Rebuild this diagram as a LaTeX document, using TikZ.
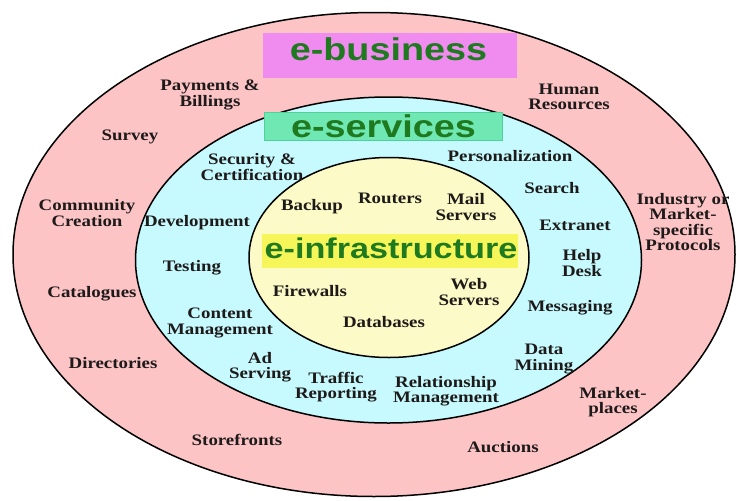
\documentclass[tikz,border=0pt]{standalone}
\usepackage{fontspec}
\newfontfamily\titlefont{Liberation Sans}[FakeStretch=1.2]
\newfontfamily\labfont{Liberation Serif}[FakeStretch=1.18]
\definecolor{pinkfill}{HTML}{FDC4C6}
\definecolor{cyanfill}{HTML}{C6FAFE}
\definecolor{yellowfill}{HTML}{FCFAC6}
\definecolor{magbox}{HTML}{F08CF0}
\definecolor{aquabox}{HTML}{70E8B4}
\definecolor{aquaedge}{HTML}{50D09A}
\definecolor{yelbox}{HTML}{F6F65A}
\definecolor{titlegreen}{HTML}{1F7A1F}
\definecolor{labtext}{HTML}{1E1A1A}
\begin{document}
\begin{tikzpicture}[x=1pt,y=-1pt,
  ring/.style={draw=black,line width=1.5pt},
  lab/.style={inner sep=0pt,align=center,text=labtext,
    font=\labfont\bfseries\fontsize{16}{15.5}\selectfont},
  ttl/.style={inner sep=0pt,anchor=base,text=titlegreen,
    font=\titlefont\bfseries\fontsize{31.5}{32}\selectfont},
  tbox/.style={inner sep=0pt,minimum width=#1}]
\useasboundingbox (0,0) rectangle (737,501);
% rings
\draw[ring,fill=pinkfill] (374,254.5) ellipse [x radius=361,y radius=242];
\draw[ring,fill=cyanfill] (388.5,260) ellipse [x radius=253,y radius=163];
\draw[ring,fill=yellowfill] (389,257.5) ellipse [x radius=140,y radius=100];
% title boxes
\node[tbox=254pt,minimum height=45pt,fill=magbox] (bbox) at (390,55.5) {};
\node[ttl] (btxt) at (388.5,60) {e-business};
\node[tbox=238pt,minimum height=28pt,fill=aquabox,draw=aquaedge,line width=1pt] (sbox) at (383,126) {};
\node[ttl] (stxt) at (383.5,137) {e-services};
\node[tbox=256pt,minimum height=34pt,fill=yelbox] (ibox) at (390,251) {};
\node[ttl,font=\titlefont\bfseries\fontsize{28.5}{29}\selectfont] (itxt) at (391,258) {e-infrastructure};
% outer ring labels
\node[lab] (pay) at (210,95) {Payments \&\\Billings};
\node[lab] (sur) at (130,137) {Survey};
\node[lab] (com) at (87,213) {Community\\Creation};
\node[lab] (cat) at (92,294) {Catalogues};
\node[lab] (dir) at (113,363) {Directories};
\node[lab] (sto) at (237,440) {Storefronts};
\node[lab] (auc) at (503,447) {Auctions};
\node[lab] (mkt) at (613,402) {Market-\\places};
\node[lab] (ind) at (683,222) {Industry or\\Market-\\specific\\Protocols};
\node[lab] (hum) at (569,97) {Human\\Resources};
% middle ring labels
\node[lab] (sec) at (252,167) {Security \&\\Certification};
\node[lab] (dev) at (197,223) {Development};
\node[lab] (tes) at (192,268) {Testing};
\node[lab] (con) at (220,323) {Content\\Management};
\node[lab] (ads) at (260,367) {Ad\\Serving};
\node[lab] (tra) at (336,387) {Traffic\\Reporting};
\node[lab] (rel) at (446,391) {Relationship\\Management};
\node[lab] (dat) at (544,359) {Data\\Mining};
\node[lab] (mes) at (570,308) {Messaging};
\node[lab] (hel) at (582,263) {Help\\Desk};
\node[lab] (ext) at (575,225) {Extranet};
\node[lab] (sea) at (552,188) {Search};
\node[lab] (per) at (510,156) {Personalization};
% inner labels
\node[lab] (bac) at (312,207) {Backup};
\node[lab] (rou) at (390,198) {Routers};
\node[lab] (mai) at (466,207) {Mail\\Servers};
\node[lab] (fir) at (310,291) {Firewalls};
\node[lab] (dbs) at (384,322) {Databases};
\node[lab] (web) at (469,292) {Web\\Servers};
\end{tikzpicture}
\end{document}
